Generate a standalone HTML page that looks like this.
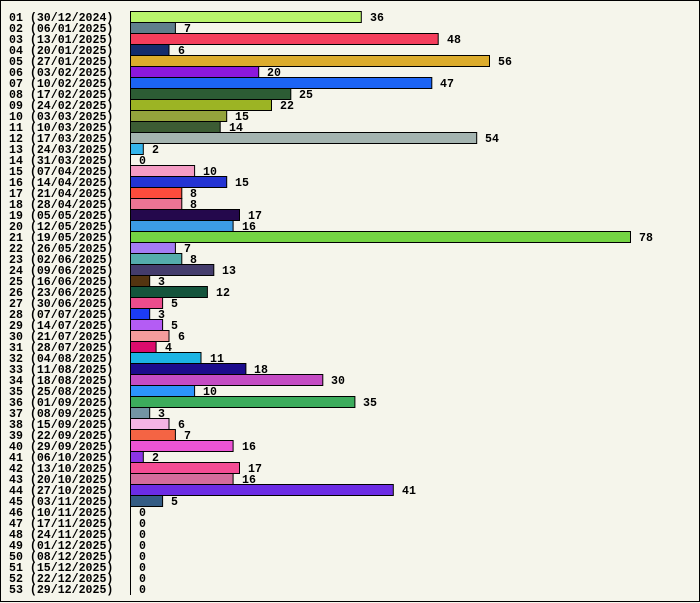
<!DOCTYPE html>
<html><head><meta charset="utf-8"><style>
html,body{margin:0;padding:0;background:#f5f5eb;}
svg{display:block}
text{font-family:"Liberation Mono","DejaVu Sans Mono",monospace;font-weight:bold;font-size:11.6px;fill:#000}
</style></head><body>
<svg width="700" height="603" viewBox="0 0 700 603" xmlns="http://www.w3.org/2000/svg">
<rect x="0.5" y="0.5" width="699" height="601" fill="#f5f5eb" stroke="#000"/>
<g stroke="#000" stroke-width="1">
<rect x="130.5" y="11.5" width="230.8" height="11" fill="#b8f46c"/>
<rect x="130.5" y="22.5" width="44.9" height="11" fill="#5f7f8c"/>
<rect x="130.5" y="33.5" width="307.7" height="11" fill="#f43e5c"/>
<rect x="130.5" y="44.5" width="38.5" height="11" fill="#142c6c"/>
<rect x="130.5" y="55.5" width="359" height="11" fill="#dcac2c"/>
<rect x="130.5" y="66.5" width="128.2" height="11" fill="#8c18dc"/>
<rect x="130.5" y="77.5" width="301.3" height="11" fill="#1c64f4"/>
<rect x="130.5" y="88.5" width="160.3" height="11" fill="#2c5c34"/>
<rect x="130.5" y="99.5" width="141" height="11" fill="#9cb424"/>
<rect x="130.5" y="110.5" width="96.2" height="11" fill="#94a43c"/>
<rect x="130.5" y="121.5" width="89.7" height="11" fill="#3c5c34"/>
<rect x="130.5" y="132.5" width="346.2" height="11" fill="#a4b4b0"/>
<rect x="130.5" y="143.5" width="12.8" height="11" fill="#34b4ec"/>
<rect x="130.5" y="165.5" width="64.1" height="11" fill="#f49cc4"/>
<rect x="130.5" y="176.5" width="96.2" height="11" fill="#2434d4"/>
<rect x="130.5" y="187.5" width="51.3" height="11" fill="#fc4c3c"/>
<rect x="130.5" y="198.5" width="51.3" height="11" fill="#ec7494"/>
<rect x="130.5" y="209.5" width="109" height="11" fill="#24084c"/>
<rect x="130.5" y="220.5" width="102.6" height="11" fill="#3c9ce4"/>
<rect x="130.5" y="231.5" width="500" height="11" fill="#74d444"/>
<rect x="130.5" y="242.5" width="44.9" height="11" fill="#a47cf4"/>
<rect x="130.5" y="253.5" width="51.3" height="11" fill="#54acac"/>
<rect x="130.5" y="264.5" width="83.3" height="11" fill="#443c6c"/>
<rect x="130.5" y="275.5" width="19.2" height="11" fill="#543410"/>
<rect x="130.5" y="286.5" width="76.9" height="11" fill="#14543c"/>
<rect x="130.5" y="297.5" width="32.1" height="11" fill="#ec4c8c"/>
<rect x="130.5" y="308.5" width="19.2" height="11" fill="#1c3cf4"/>
<rect x="130.5" y="319.5" width="32.1" height="11" fill="#b45cf4"/>
<rect x="130.5" y="330.5" width="38.5" height="11" fill="#f49c9c"/>
<rect x="130.5" y="341.5" width="25.6" height="11" fill="#dc0c6c"/>
<rect x="130.5" y="352.5" width="70.5" height="11" fill="#1cb4e4"/>
<rect x="130.5" y="363.5" width="115.4" height="11" fill="#1c0c8c"/>
<rect x="130.5" y="374.5" width="192.3" height="11" fill="#c44cc4"/>
<rect x="130.5" y="385.5" width="64.1" height="11" fill="#2c94fc"/>
<rect x="130.5" y="396.5" width="224.4" height="11" fill="#3cac5c"/>
<rect x="130.5" y="407.5" width="19.2" height="11" fill="#7494a4"/>
<rect x="130.5" y="418.5" width="38.5" height="11" fill="#f4b4e4"/>
<rect x="130.5" y="429.5" width="44.9" height="11" fill="#f46444"/>
<rect x="130.5" y="440.5" width="102.6" height="11" fill="#ec54d4"/>
<rect x="130.5" y="451.5" width="12.8" height="11" fill="#8c34e4"/>
<rect x="130.5" y="462.5" width="109" height="11" fill="#f44c94"/>
<rect x="130.5" y="473.5" width="102.6" height="11" fill="#d46c9c"/>
<rect x="130.5" y="484.5" width="262.8" height="11" fill="#6c2ce4"/>
<rect x="130.5" y="495.5" width="32.1" height="11" fill="#345c84"/>
</g>
<line x1="130.5" y1="11" x2="130.5" y2="595" stroke="#000"/>
<g>
<text x="9" y="21">01 (30/12/2024)</text><text x="370" y="21">36</text>
<text x="9" y="32">02 (06/01/2025)</text><text x="184" y="32">7</text>
<text x="9" y="43">03 (13/01/2025)</text><text x="447" y="43">48</text>
<text x="9" y="54">04 (20/01/2025)</text><text x="178" y="54">6</text>
<text x="9" y="65">05 (27/01/2025)</text><text x="498" y="65">56</text>
<text x="9" y="76">06 (03/02/2025)</text><text x="267" y="76">20</text>
<text x="9" y="87">07 (10/02/2025)</text><text x="440" y="87">47</text>
<text x="9" y="98">08 (17/02/2025)</text><text x="299" y="98">25</text>
<text x="9" y="109">09 (24/02/2025)</text><text x="280" y="109">22</text>
<text x="9" y="120">10 (03/03/2025)</text><text x="235" y="120">15</text>
<text x="9" y="131">11 (10/03/2025)</text><text x="229" y="131">14</text>
<text x="9" y="142">12 (17/03/2025)</text><text x="485" y="142">54</text>
<text x="9" y="153">13 (24/03/2025)</text><text x="152" y="153">2</text>
<text x="9" y="164">14 (31/03/2025)</text><text x="139" y="164">0</text>
<text x="9" y="175">15 (07/04/2025)</text><text x="203" y="175">10</text>
<text x="9" y="186">16 (14/04/2025)</text><text x="235" y="186">15</text>
<text x="9" y="197">17 (21/04/2025)</text><text x="190" y="197">8</text>
<text x="9" y="208">18 (28/04/2025)</text><text x="190" y="208">8</text>
<text x="9" y="219">19 (05/05/2025)</text><text x="248" y="219">17</text>
<text x="9" y="230">20 (12/05/2025)</text><text x="242" y="230">16</text>
<text x="9" y="241">21 (19/05/2025)</text><text x="639" y="241">78</text>
<text x="9" y="252">22 (26/05/2025)</text><text x="184" y="252">7</text>
<text x="9" y="263">23 (02/06/2025)</text><text x="190" y="263">8</text>
<text x="9" y="274">24 (09/06/2025)</text><text x="222" y="274">13</text>
<text x="9" y="285">25 (16/06/2025)</text><text x="158" y="285">3</text>
<text x="9" y="296">26 (23/06/2025)</text><text x="216" y="296">12</text>
<text x="9" y="307">27 (30/06/2025)</text><text x="171" y="307">5</text>
<text x="9" y="318">28 (07/07/2025)</text><text x="158" y="318">3</text>
<text x="9" y="329">29 (14/07/2025)</text><text x="171" y="329">5</text>
<text x="9" y="340">30 (21/07/2025)</text><text x="178" y="340">6</text>
<text x="9" y="351">31 (28/07/2025)</text><text x="165" y="351">4</text>
<text x="9" y="362">32 (04/08/2025)</text><text x="210" y="362">11</text>
<text x="9" y="373">33 (11/08/2025)</text><text x="254" y="373">18</text>
<text x="9" y="384">34 (18/08/2025)</text><text x="331" y="384">30</text>
<text x="9" y="395">35 (25/08/2025)</text><text x="203" y="395">10</text>
<text x="9" y="406">36 (01/09/2025)</text><text x="363" y="406">35</text>
<text x="9" y="417">37 (08/09/2025)</text><text x="158" y="417">3</text>
<text x="9" y="428">38 (15/09/2025)</text><text x="178" y="428">6</text>
<text x="9" y="439">39 (22/09/2025)</text><text x="184" y="439">7</text>
<text x="9" y="450">40 (29/09/2025)</text><text x="242" y="450">16</text>
<text x="9" y="461">41 (06/10/2025)</text><text x="152" y="461">2</text>
<text x="9" y="472">42 (13/10/2025)</text><text x="248" y="472">17</text>
<text x="9" y="483">43 (20/10/2025)</text><text x="242" y="483">16</text>
<text x="9" y="494">44 (27/10/2025)</text><text x="402" y="494">41</text>
<text x="9" y="505">45 (03/11/2025)</text><text x="171" y="505">5</text>
<text x="9" y="516">46 (10/11/2025)</text><text x="139" y="516">0</text>
<text x="9" y="527">47 (17/11/2025)</text><text x="139" y="527">0</text>
<text x="9" y="538">48 (24/11/2025)</text><text x="139" y="538">0</text>
<text x="9" y="549">49 (01/12/2025)</text><text x="139" y="549">0</text>
<text x="9" y="560">50 (08/12/2025)</text><text x="139" y="560">0</text>
<text x="9" y="571">51 (15/12/2025)</text><text x="139" y="571">0</text>
<text x="9" y="582">52 (22/12/2025)</text><text x="139" y="582">0</text>
<text x="9" y="593">53 (29/12/2025)</text><text x="139" y="593">0</text>
</g>
</svg>
</body></html>
